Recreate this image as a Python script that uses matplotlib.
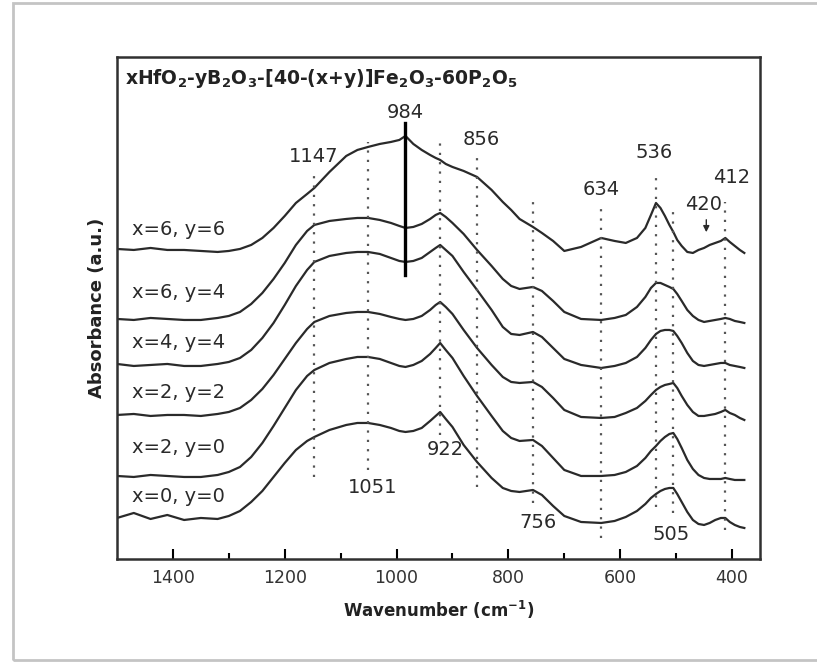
import matplotlib
matplotlib.use('Agg')
import matplotlib.pyplot as plt
from matplotlib.patches import Rectangle

plt.rcParams['font.family'] = ['DejaVu Sans']
plt.rcParams['mathtext.fontset'] = 'custom'
plt.rcParams['mathtext.rm'] = 'DejaVu Sans:bold'
plt.rcParams['mathtext.default'] = 'rm'

# wavenumber grid (cm-1) shared by all spectra
wavenumber = [1500, 1470, 1440, 1410, 1380, 1350, 1320, 1300, 1280, 1260, 1240, 1220,
              1200, 1180, 1160, 1147, 1120, 1090, 1070, 1051, 1030, 1010, 995, 984,
              970, 955, 940, 930, 922, 912, 900, 880, 856, 830, 810, 795, 780, 756,
              740, 720, 700, 670, 634, 610, 590, 570, 555, 545, 536, 528, 520, 512,
              505, 498, 490, 480, 470, 460, 450, 440, 430, 420, 412, 404, 395, 386, 378]

# absorbance profiles (a.u., relative to each spectrum's baseline)
abs_x6_y6 = [1, 0, 2, 0, 0, -1, -2, -1, 1, 5, 12, 22,
             34, 47, 56, 62, 78, 94, 100, 103, 106, 108, 110, 114,
             106, 100, 95, 92, 90, 86, 83, 79, 73, 60, 48, 40, 31, 23,
             17, 9, -1, 3, 12, 9, 7, 12, 22, 35, 47, 42, 34, 25,
             18, 10, 4, -2, -3, 0, 2, 5, 7, 9, 12, 8, 4, 0, -3]
abs_x6_y4 = [0, -1, 1, 0, -1, -1, 1, 3, 7, 15, 26, 40,
             56, 74, 88, 94, 98, 100, 101, 101, 99, 96, 93, 91,
             92, 95, 100, 104, 106, 102, 96, 85, 69, 53, 40, 33, 30, 32,
             28, 18, 7, 0, -1, 1, 4, 12, 22, 31, 36, 36, 34, 32,
             30, 25, 18, 9, 3, -1, -3, -2, -1, 0, 1, 0, -2, -3, -4]
abs_x4_y4 = [1, -1, 0, 1, -1, -1, 1, 3, 7, 15, 27, 42,
             60, 79, 95, 103, 109, 112, 113, 113, 111, 107, 104, 103,
             104, 107, 113, 117, 120, 115, 109, 93, 75, 55, 38, 31, 30, 33,
             28, 17, 6, 0, -3, -1, 2, 8, 17, 25, 31, 34, 35, 35,
             34, 29, 22, 12, 4, 0, -1, 0, 1, 2, 2, 0, -1, -2, -3]
abs_x2_y2 = [0, 1, -1, 0, 0, -1, 1, 3, 7, 15, 26, 40,
             56, 72, 86, 93, 99, 102, 103, 103, 101, 98, 96, 95,
             96, 99, 105, 110, 113, 108, 101, 85, 67, 50, 38, 33, 32, 33,
             28, 17, 5, -2, -3, -2, 2, 7, 14, 20, 25, 28, 30, 31,
             32, 27, 19, 10, 3, -1, -1, 0, 1, 3, 5, 2, 0, -3, -5]
abs_x2_y0 = [0, -1, 1, 0, -1, -1, 1, 4, 9, 19, 33, 50,
             68, 86, 100, 106, 113, 117, 119, 119, 117, 113, 110, 109,
             111, 115, 122, 128, 133, 126, 118, 100, 80, 60, 45, 38, 35, 36,
             30, 18, 6, 0, 0, 1, 4, 10, 18, 25, 30, 35, 39, 42,
             43, 37, 28, 16, 7, 1, -2, -3, -3, -3, -2, -3, -4, -4, -4]
abs_x0_y0 = [-1, 4, -2, 2, -3, -1, -2, 1, 6, 15, 26, 40,
             54, 67, 76, 80, 87, 92, 94, 94, 92, 89, 86, 85,
             86, 89, 96, 101, 105, 98, 90, 72, 55, 39, 29, 26, 25, 27,
             22, 11, 1, -5, -6, -4, 0, 6, 13, 19, 23, 26, 28, 29,
             29, 23, 15, 5, -3, -7, -8, -6, -3, -1, -1, -5, -8, -10, -11]

spectra = [abs_x6_y6, abs_x6_y4, abs_x4_y4, abs_x2_y2, abs_x2_y0, abs_x0_y0]
stack_offsets = [309, 240, 194, 144, 83, 42]
sample_labels = ['x=6, y=6', 'x=6, y=4', 'x=4, y=4', 'x=2, y=2', 'x=2, y=0', 'x=0, y=0']
label_levels = [329, 266, 216, 166, 111, 62]

# dotted guide lines: band position, top, bottom
band_pos = [1147, 1051, 922, 856, 756, 634, 536, 505, 412]
band_top = [389, 417, 419, 401, 362, 351, 382, 351, 357]
band_bottom = [82, 89, 124, 72, 56, 21, 52, 46, 29]

# band labels: text, x (cm-1), y
band_text = ['984', '1147', '856', '634', '536', '412', '420', '1051', '922', '756', '505']
band_text_x = [984, 1149, 848, 634, 539, 401, 450, 1043, 912, 747, 509]
band_text_y = [446, 402, 419, 369, 406, 381, 354, 71, 109, 36, 24]

fig = plt.figure(figsize=(8.17, 6.70), dpi=100)
# light picture frame round the figure
fig.patches.append(Rectangle((0.016, 0.015), 1.2, 0.98, transform=fig.transFigure,
                             fill=False, edgecolor='#c4c4c4', linewidth=2.0))
ax = fig.add_axes([0.1432, 0.1657, 0.787, 0.7493])

ink = '#2a2a2a'
for prof, off in zip(spectra, stack_offsets):
    ax.plot(wavenumber, [off + p for p in prof], color=ink, linewidth=1.6)

for w, t, b in zip(band_pos, band_top, band_bottom):
    ax.plot([w, w], [b, t], color='#555555', linewidth=1.6, linestyle=(0, (1, 3.2)))

# solid marker at 984
ax.plot([984, 984], [284, 436], color='black', linewidth=2.4)

for s, lv in zip(sample_labels, label_levels):
    ax.text(1474, lv, s, fontsize=14, color=ink, ha='left', va='center')

for s, x, y in zip(band_text, band_text_x, band_text_y):
    ax.text(x, y, s, fontsize=14, color=ink, ha='center', va='center')

ax.annotate('', xy=(446, 324), xytext=(446, 342),
            arrowprops=dict(arrowstyle='-|>', color=ink, lw=1.0, mutation_scale=9))

ax.text(0.012, 0.958, 'xHfO$_2$-yB$_2$O$_3$-[40-(x+y)]Fe$_2$O$_3$-60P$_2$O$_5$',
        transform=ax.transAxes, fontsize=13.5, fontweight='bold', color='#222222',
        ha='left', va='center')

ax.set_xlim(1500, 350)
ax.set_ylim(0, 502)
ax.set_xticks([1400, 1200, 1000, 800, 600, 400])
ax.set_xticks([1300, 1100, 900, 700, 500], minor=True)
ax.set_yticks([])
ax.tick_params(axis='x', which='major', direction='in', length=7, width=1.5,
               labelsize=12.5, labelcolor='#333333', pad=7)
ax.tick_params(axis='x', which='minor', direction='in', length=4, width=1.5)
for sp in ax.spines.values():
    sp.set_linewidth(1.8)
    sp.set_color('#303030')

ax.set_xlabel('Wavenumber (cm$^{-1}$)', fontsize=12, fontweight='bold', color='#222222',
              labelpad=9)
ax.set_ylabel('Absorbance (a.u.)', fontsize=13, fontweight='bold', color='#222222',
              labelpad=8)

fig.savefig('out.png', dpi=100)
